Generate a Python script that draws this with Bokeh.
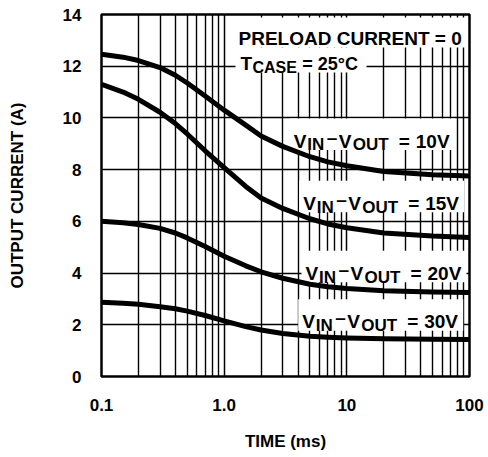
from bokeh.plotting import figure
from bokeh.models import FixedTicker, Label
from bokeh.embed import file_html
from bokeh.resources import INLINE

# ---- data ----
time_ms = [0.1, 0.15, 0.2, 0.3, 0.4, 0.5, 0.7, 1.0, 1.5, 2, 3, 5, 7, 10, 20, 50, 100]
i_10v = [12.46, 12.35, 12.22, 11.95, 11.65, 11.35, 10.85, 10.3, 9.72, 9.3, 8.9, 8.5, 8.3, 8.15, 7.93, 7.8, 7.75]
i_15v = [11.3, 11.0, 10.72, 10.22, 9.78, 9.38, 8.73, 8.08, 7.35, 6.9, 6.5, 6.1, 5.9, 5.75, 5.55, 5.43, 5.38]
i_20v = [6.0, 5.95, 5.88, 5.73, 5.55, 5.36, 5.03, 4.65, 4.28, 4.05, 3.8, 3.57, 3.47, 3.4, 3.32, 3.27, 3.25]
i_30v = [2.87, 2.83, 2.79, 2.7, 2.62, 2.53, 2.36, 2.15, 1.93, 1.8, 1.66, 1.56, 1.52, 1.49, 1.46, 1.44, 1.43]
series = [i_10v, i_15v, i_20v, i_30v]
series_names = ["10V", "15V", "20V", "30V"]

x_ticks = [0.1, 1.0, 10.0, 100.0]
x_tick_labels = ["0.1", "1.0", "10", "100"]
y_ticks = [0, 2, 4, 6, 8, 10, 12, 14]

# label placement (centre of white box, data coords)
label_pos = [(16.13, 9.37), (19.24, 6.96), (20.09, 4.25), (18.89, 2.38)]

FONT = "Liberation Sans"

p = figure(width=488, height=457, x_axis_type="log", x_range=(0.1, 100), y_range=(0, 14),
           output_backend="svg", toolbar_location=None,
           min_border_left=101, min_border_right=19, min_border_top=14, min_border_bottom=81)
p.background_fill_color = "white"
p.border_fill_color = "white"
p.outline_line_color = "black"
p.outline_line_width = 2.5

minor = [m * d for d in (0.1, 1, 10) for m in range(2, 10)]
p.xaxis.ticker = FixedTicker(ticks=x_ticks, minor_ticks=minor)
p.xaxis.major_label_overrides = dict(zip(x_ticks, x_tick_labels))
p.yaxis.ticker = FixedTicker(ticks=y_ticks)

for ax in (p.xaxis, p.yaxis):
    ax.axis_line_color = None
    ax.major_tick_line_color = None
    ax.minor_tick_line_color = None
    ax.major_tick_out = 0
    ax.major_label_text_font = FONT
    ax.major_label_text_font_style = "bold"
    ax.major_label_text_font_size = "17px"
    ax.major_label_text_color = "black"
    ax.axis_label_text_font = FONT
    ax.axis_label_text_font_style = "bold"
    ax.axis_label_text_font_size = "17px"
    ax.axis_label_text_color = "black"

p.xaxis.axis_label = "TIME (ms)"
p.yaxis.axis_label = "OUTPUT CURRENT (A)"
p.xaxis.major_label_standoff = 18
p.xaxis.axis_label_standoff = 18
p.yaxis.major_label_standoff = 20
p.yaxis.axis_label_standoff = 33

p.xgrid.grid_line_color = "black"
p.xgrid.grid_line_width = 1.5
p.xgrid.minor_grid_line_color = "black"
p.xgrid.minor_grid_line_width = 1.4
p.ygrid.grid_line_color = "black"
p.ygrid.grid_line_width = 1.5

# white boxes behind the texts (hide grid)
box_x = [10.92, 4.23] + [pos[0] for pos in label_pos]
box_y = [13.30, 12.24] + [pos[1] for pos in label_pos]
box_w = [232, 131] + [165] * 4
box_h = [30, 25] + [31.5] * 4
p.rect(x=box_x, y=box_y, width=box_w, height=box_h, width_units="screen", height_units="screen",
       fill_color="white", line_color=None)

for vals in series:
    p.line(time_ms, vals, line_color="black", line_width=5, line_cap="round", line_join="round")


def add_text(x, y, txt, dx, dy, size):
    p.add_layout(Label(x=x, y=y, x_offset=dx, y_offset=dy, text=txt, text_font=FONT,
                       text_font_style="bold", text_font_size=size, text_color="black",
                       text_align="left", text_baseline="alphabetic"))


add_text(10.92, 13.30, "PRELOAD CURRENT = 0", -113, -6.3, "19px")
add_text(4.23, 12.24, "T", -60.5, -3.8, "19px")
add_text(4.23, 12.24, "CASE", -48.5, -7.2, "16px")
add_text(4.23, 12.24, "= 25°C", 1.2, -3.8, "18px")

for (lx, ly), name in zip(label_pos, series_names):
    L = -78.5
    b = -7.0
    add_text(lx, ly, "V", L + 0, b, "19px")
    add_text(lx, ly, "IN", L + 13.5, b - 3.5, "17px")
    add_text(lx, ly, "–", L + 33, b + 4, "19px")
    add_text(lx, ly, "V", L + 45, b, "19px")
    add_text(lx, ly, "OUT", L + 59, b - 3.5, "17px")
    add_text(lx, ly, "=", L + 105, b, "19px")
    add_text(lx, ly, name, L + 122, b, "19px")

open("out.html", "w").write(file_html(p, INLINE))
